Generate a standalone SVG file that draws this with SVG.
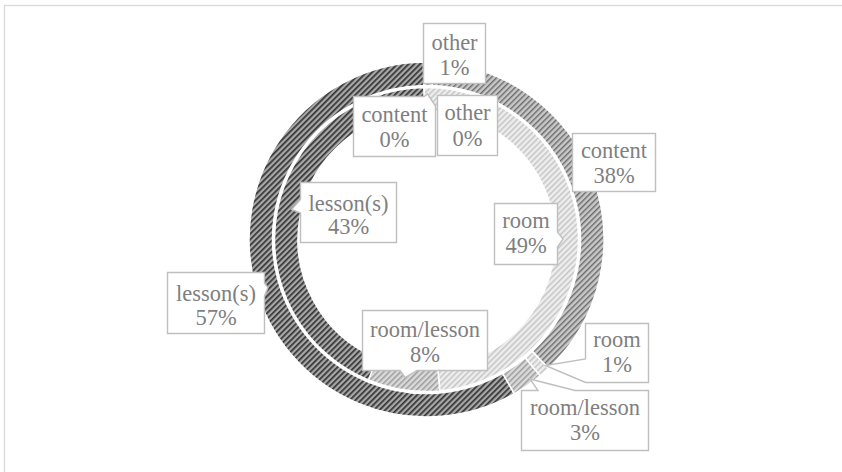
<svg xmlns="http://www.w3.org/2000/svg" width="842" height="472" viewBox="0 0 842 472">
<defs>
<pattern id="pDark" patternUnits="userSpaceOnUse" width="4" height="4" patternTransform="rotate(45)">
<rect width="4" height="4" fill="#a8a8a8"/><rect width="1.7" height="4" fill="#333333"/>
</pattern>
<pattern id="pMid" patternUnits="userSpaceOnUse" width="4" height="4" patternTransform="rotate(45)">
<rect width="4" height="4" fill="#c8c8c8"/><rect width="1.4" height="4" fill="#6a6a6a"/>
</pattern>
<pattern id="pLight" patternUnits="userSpaceOnUse" width="4" height="4" patternTransform="rotate(45)">
<rect width="4" height="4" fill="#eeeeee"/><rect width="1.5" height="4" fill="#c4c4c4"/>
</pattern>
<pattern id="pLM" patternUnits="userSpaceOnUse" width="4" height="4" patternTransform="rotate(45)">
<rect width="4" height="4" fill="#dadada"/><rect width="1.5" height="4" fill="#9c9c9c"/>
</pattern>
</defs>
<style>
.sl{stroke:#ffffff;stroke-width:1.5}
.box{fill:#ffffff;stroke:#bfbfbf;stroke-width:1.4}
.lbl{font-family:"Liberation Serif","Times New Roman",serif;font-size:22.5px;fill:#7f7f7f;text-anchor:middle}
</style>
<rect x="4.5" y="5.5" width="850" height="480" fill="#ffffff" stroke="#d9d9d9" stroke-width="1.3"/>
<g id="outer-ring" transform="translate(0,2)">
<path id="o-other" class="sl" fill="url(#pMid)" d="M423.40,60.03 A177.5,177.5 0 0 1 433.31,60.13 L432.41,83.61 A154,154 0 0 0 423.81,83.52 Z"/>
<path id="o-content" class="sl" fill="url(#pMid)" d="M433.31,60.13 A177.5,177.5 0 0 1 548.46,366.47 L532.31,349.39 A154,154 0 0 0 432.41,83.61 Z"/>
<path id="o-room" class="sl" fill="url(#pLight)" d="M548.46,366.47 A177.5,177.5 0 0 1 540.12,373.87 L525.08,355.82 A154,154 0 0 0 532.31,349.39 Z"/>
<path id="o-roomlesson" class="sl" fill="url(#pLM)" d="M540.12,373.87 A177.5,177.5 0 0 1 514.18,391.84 L502.57,371.40 A154,154 0 0 0 525.08,355.82 Z"/>
<path id="o-lessons" class="sl" fill="url(#pDark)" d="M514.18,391.84 A177.5,177.5 0 1 1 423.40,60.03 L423.81,83.52 A154,154 0 1 0 502.57,371.40 Z"/>
</g>
<g id="inner-ring" transform="translate(0,2)">
<path id="i-room" class="sl" fill="url(#pLight)" d="M423.85,85.52 A152,152 0 0 1 439.75,388.92 L437.70,365.51 A128.5,128.5 0 0 0 424.26,109.02 Z"/>
<path id="i-roomlesson" class="sl" fill="url(#pLM)" d="M439.75,388.92 A152,152 0 0 1 368.33,377.93 L377.33,356.22 A128.5,128.5 0 0 0 437.70,365.51 Z"/>
<path id="i-lessons" class="sl" fill="url(#pDark)" d="M368.33,377.93 A152,152 0 0 1 423.85,85.52 L424.26,109.02 A128.5,128.5 0 0 0 377.33,356.22 Z"/>
</g>
<g id="connectors"></g>
<g id="lbl-other1">
<rect class="box" x="423.5" y="23.5" width="62" height="60"/>
<text class="lbl" x="454.5" y="49.5">other</text><text class="lbl" x="454.5" y="74.5">1%</text>
</g>
<g id="lbl-content0">
<path class="box" d="M353.5,96.5 H424 L427.5,94 L435.5,106 V156.5 H353.5 Z"/>
<text class="lbl" x="394.5" y="121.5">content</text><text class="lbl" x="394.5" y="146.5">0%</text>
</g>
<g id="lbl-other0">
<rect class="box" x="437.5" y="95.5" width="60" height="60"/>
<text class="lbl" x="467.5" y="120">other</text><text class="lbl" x="467.5" y="145.5">0%</text>
</g>
<g id="lbl-content38">
<rect class="box" x="572.5" y="133.5" width="83" height="58"/>
<text class="lbl" x="614" y="158">content</text><text class="lbl" x="614" y="183">38%</text>
</g>
<g id="lbl-room49">
<path class="box" d="M494.5,203.5 H557.5 V232 L563,239 L557.5,247 V264.5 H494.5 Z"/>
<text class="lbl" x="526" y="228">room</text><text class="lbl" x="526" y="253">49%</text>
</g>
<g id="lbl-lessons43">
<path class="box" d="M300.5,182.5 H396.5 V242.5 H300.5 V213 L291.5,209.5 L300.5,199.5 Z"/>
<text class="lbl" x="348.5" y="210.5">lesson(s)</text><text class="lbl" x="348.5" y="234">43%</text>
</g>
<g id="lbl-lessons57">
<path class="box" d="M167.5,272.5 H264.5 V283 L268,287.5 L264.5,296 V333.5 H167.5 Z"/>
<text class="lbl" x="216" y="301">lesson(s)</text><text class="lbl" x="216" y="325">57%</text>
</g>
<g id="lbl-roomlesson8">
<path class="box" d="M362.5,310.5 H487.5 V370.5 H417 L405,377.5 L400,370.5 H362.5 Z"/>
<text class="lbl" x="425" y="337">room/lesson</text><text class="lbl" x="425" y="362">8%</text>
</g>
<g id="lbl-room1">
<path class="box" d="M585.5,323.5 H648.5 V382.5 H585.5 L545.5,365.5 L585.5,359 Z"/>
<text class="lbl" x="617" y="347">room</text><text class="lbl" x="617" y="372">1%</text>
</g>
<g id="lbl-roomlesson3">
<path class="box" d="M521.5,390.5 H538 L530,379 L575,390.5 H648.5 V450.5 H521.5 Z"/>
<text class="lbl" x="585" y="415">room/lesson</text><text class="lbl" x="585" y="440">3%</text>
</g>
</svg>
